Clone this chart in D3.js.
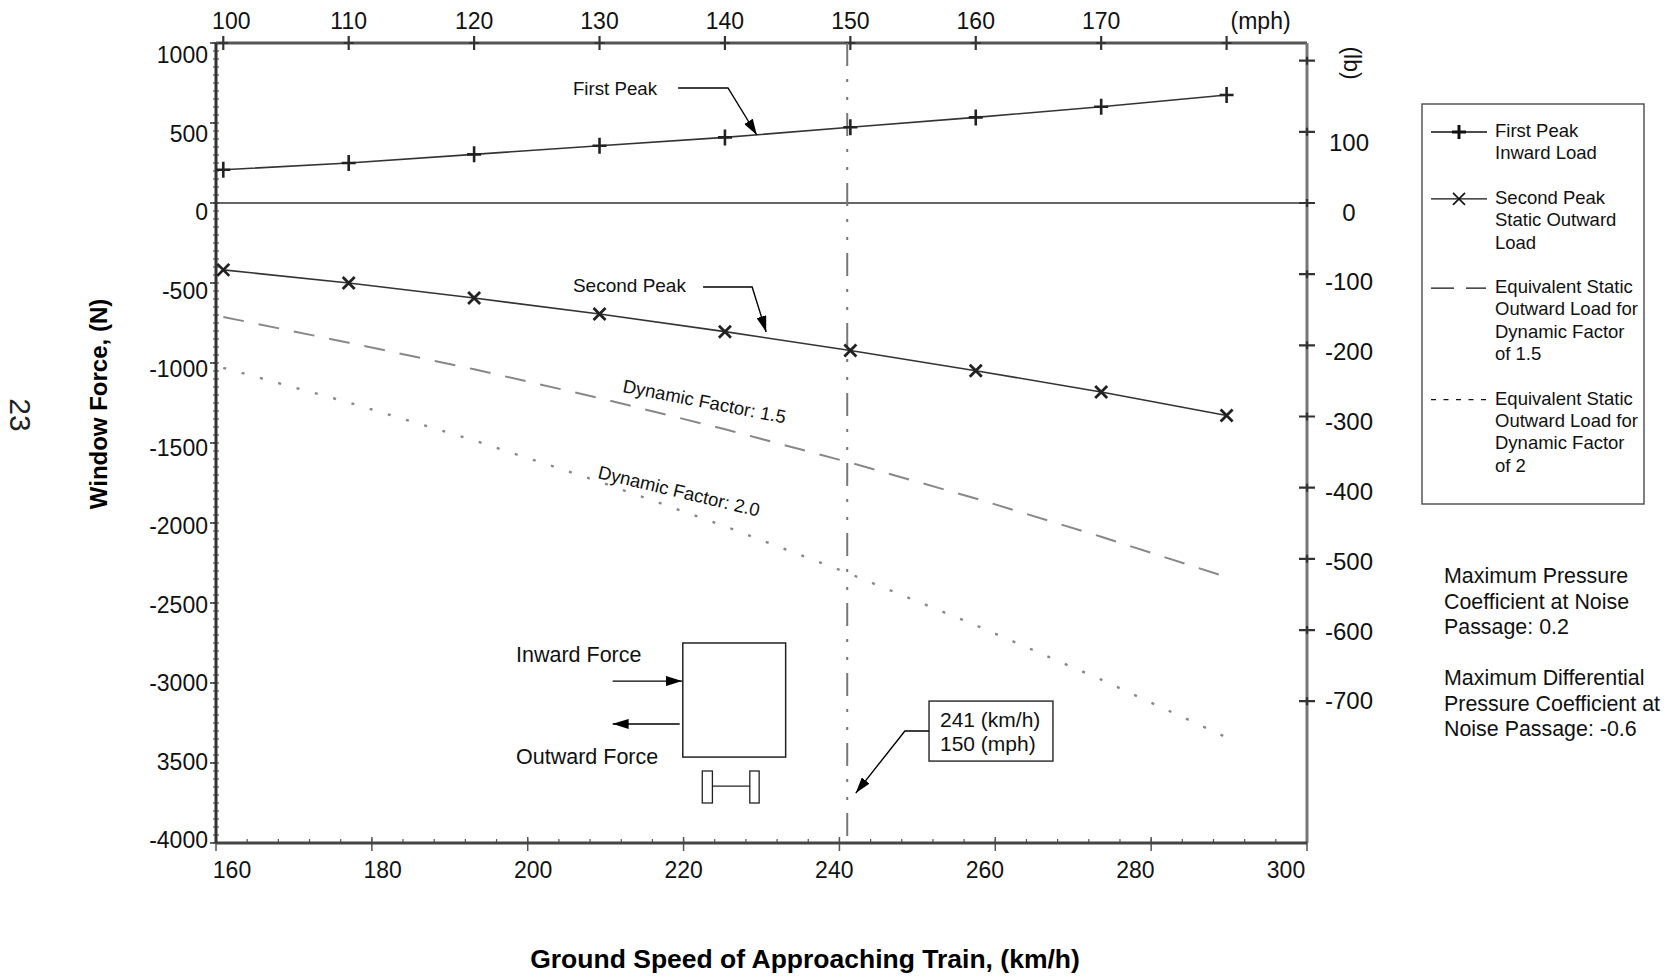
<!DOCTYPE html>
<html><head><meta charset="utf-8">
<script src="https://cdn.jsdelivr.net/npm/d3@7"></script>
<style>
body{margin:0;background:#fff;}
svg{font-family:"Liberation Sans",Arial,Helvetica,sans-serif;}
</style></head><body>
<svg id="chart" width="1670" height="976"></svg>
<script>
// ---------------- data ----------------
const speedMph      = [100,110,120,130,140,150,160,170,180];
const firstPeakN    = [208,250,304,358,410,473,535,602,675];
const secondPeakN   = [-418,-500,-594,-694,-804,-922,-1048,-1181,-1328];
const dynFactor15N  = [-712,-873,-1039,-1219,-1414,-1623,-1847,-2086,-2338];
const dynFactor20N  = [-1030,-1247,-1484,-1742,-2020,-2319,-2639,-2979,-3340];

const kmhTicks        = [160,180,200,220,240,260,280,300];
const mphTicks        = [100,110,120,130,140,150,160,170,180];
const mphTickLabels   = ["100","110","120","130","140","150","160","170","(mph)"];
const forceTicks      = [1000,500,0,-500,-1000,-1500,-2000,-2500,-3000,-3500,-4000];
const forceTickLabels = ["1000","500","0","-500","-1000","-1500","-2000","-2500","-3000","3500","-4000"];
const lbTicks         = [200,100,0,-100,-200,-300,-400,-500,-600,-700];
const lbTickLabels    = ["","100","0","-100","-200","-300","-400","-500","-600","-700"];
const markerKmh = 241;
const KMH_PER_MPH = 1.609344;
const N_PER_LB = 4.44822;

const legendEntries = [
  {lines:["First Peak","Inward Load"], type:"plus"},
  {lines:["Second Peak","Static Outward","Load"], type:"cross"},
  {lines:["Equivalent Static","Outward Load for","Dynamic Factor","of 1.5"], type:"dash"},
  {lines:["Equivalent Static","Outward Load for","Dynamic Factor","of 2"], type:"dot"}
];
const noteLines = [["Maximum Pressure","Coefficient at Noise","Passage: 0.2"],
                   ["Maximum Differential","Pressure Coefficient at","Noise Passage: -0.6"]];

// ---------------- scales ----------------
const svg = d3.select("#chart");
const x = d3.scaleLinear().domain([160,300]).range([216,1307]);
const y = d3.scaleLinear().domain([-4000,1000]).range([843,43]);
const xm = mph => x(mph*KMH_PER_MPH);
const xLabel = d3.scaleLinear().domain([160,300]).range([232,1286]);
const yLabel = d3.scaleLinear().domain([-4000,1000]).range([840,55]);
const TICK_FONT = 23;

const defs = svg.append("defs");
defs.append("marker").attr("id","arrow").attr("viewBox","0 0 16 10")
  .attr("refX",16).attr("refY",5).attr("markerWidth",16).attr("markerHeight",10)
  .attr("markerUnits","userSpaceOnUse").attr("orient","auto")
  .append("path").attr("d","M0,0L16,5L0,10Z").attr("fill","#000");

const g = svg.append("g");

// minor ticks left axis
g.selectAll(".ymin").data(d3.range(-4000,1001,50)).join("line")
  .attr("x1",x(160)-3).attr("x2",x(160)+3).attr("y1",d=>y(d)).attr("y2",d=>y(d))
  .attr("stroke","#555").attr("stroke-width",1.2);
g.selectAll(".ymaj").data(forceTicks).join("line")
  .attr("x1",x(160)-6).attr("x2",x(160)).attr("y1",d=>y(d)).attr("y2",d=>y(d))
  .attr("stroke","#333").attr("stroke-width",1.5);
// minor ticks bottom axis
g.selectAll(".xmin").data(d3.range(160,301,4)).join("line")
  .attr("x1",d=>x(d)).attr("x2",d=>x(d)).attr("y1",y(-4000)-4).attr("y2",y(-4000))
  .attr("stroke","#555").attr("stroke-width",1.2);
g.selectAll(".xmaj").data(kmhTicks).join("line")
  .attr("x1",d=>x(d)).attr("x2",d=>x(d)).attr("y1",y(-4000)-6).attr("y2",y(-4000)+8)
  .attr("stroke","#555").attr("stroke-width",1.5);

// axes frame
g.append("line").attr("x1",x(160)).attr("x2",x(300)).attr("y1",y(1000)).attr("y2",y(1000))
  .attr("stroke","#555").attr("stroke-width",3);
g.append("line").attr("x1",x(300)).attr("x2",x(300)).attr("y1",y(1000)).attr("y2",y(-4000))
  .attr("stroke","#777").attr("stroke-width",3);
g.append("line").attr("x1",x(160)).attr("x2",x(300)).attr("y1",y(-4000)).attr("y2",y(-4000))
  .attr("stroke","#444").attr("stroke-width",3);
g.append("line").attr("x1",x(160)).attr("x2",x(160)).attr("y1",y(1000)).attr("y2",y(-4000))
  .attr("stroke","#333").attr("stroke-width",3);
// zero line
g.append("line").attr("x1",x(160)).attr("x2",x(300)).attr("y1",y(0)).attr("y2",y(0))
  .attr("stroke","#333").attr("stroke-width",1.5);

// top + ticks
g.selectAll(".tplus").data(mphTicks).join("path")
  .attr("d",d=>`M${xm(d)},${y(1000)-7}V${y(1000)+7}M${xm(d)-5},${y(1000)}H${xm(d)+5}`)
  .attr("stroke","#333").attr("stroke-width",2.2).attr("fill","none");
// right + ticks
g.selectAll(".rplus").data(lbTicks).join("path")
  .attr("d",d=>`M${x(300)-8},${y(d*N_PER_LB)}H${x(300)+8}M${x(300)},${y(d*N_PER_LB)-4}V${y(d*N_PER_LB)+4}`)
  .attr("stroke","#333").attr("stroke-width",2.2).attr("fill","none");

// tick labels
const tl = svg.append("g").attr("font-size",TICK_FONT).attr("fill","#111");
tl.selectAll(".ly").data(forceTicks).join("text")
  .attr("x",x(160)-8).attr("y",d=>yLabel(d)).attr("dy","0.36em").attr("text-anchor","end")
  .text((d,i)=>forceTickLabels[i]);
tl.selectAll(".lx").data(kmhTicks).join("text")
  .attr("x",d=>xLabel(d)).attr("y",870).attr("dy","0.36em").attr("text-anchor","middle")
  .text(d=>d);
tl.selectAll(".lt").data(mphTicks).join("text")
  .attr("x",(d,i)=> i===mphTicks.length-1 ? xm(d)+34 : xm(d)+ (i===0?8:0))
  .attr("y",21).attr("dy","0.36em").attr("text-anchor","middle")
  .text((d,i)=>mphTickLabels[i]);
tl.selectAll(".lr").data(lbTicks).join("text")
  .attr("x",1349).attr("y",d=>yLabel(d*N_PER_LB)).attr("dy","0.36em").attr("text-anchor","middle")
  .attr("font-size",24)
  .text((d,i)=>lbTickLabels[i]);
tl.append("text").attr("transform",`translate(1352,63) rotate(90)`)
  .attr("text-anchor","middle").attr("dy","0.36em").text("(lb)");

// axis titles
svg.append("text").attr("transform","translate(98,404) rotate(-90)").attr("text-anchor","middle")
  .attr("dy","0.36em").attr("font-weight","bold").attr("font-size",24).text("Window Force, (N)");
svg.append("text").attr("x",805).attr("y",958).attr("text-anchor","middle").attr("dy","0.36em")
  .attr("font-weight","bold").attr("font-size",26.5).text("Ground Speed of Approaching Train, (km/h)");
svg.append("text").attr("transform","translate(21,415) rotate(90)").attr("text-anchor","middle")
  .attr("dy","0.36em").attr("font-size",30).attr("fill","#222").text("23");

// vertical reference line
g.append("line").attr("x1",x(markerKmh)).attr("x2",x(markerKmh)).attr("y1",y(1000)).attr("y2",y(-4000))
  .attr("stroke","#777").attr("stroke-width",2).attr("stroke-dasharray","23,13,3,15,3,13");

// series
const line = d3.line().x(d=>xm(d[0])).y(d=>y(d[1]));
const zipS = arr => speedMph.map((m,i)=>[m,arr[i]]);
g.append("path").attr("d",line(zipS(dynFactor20N))).attr("fill","none")
  .attr("stroke","#888").attr("stroke-width",2.4).attr("stroke-dasharray","3,16");
g.append("path").attr("d",line(zipS(dynFactor15N))).attr("fill","none")
  .attr("stroke","#888").attr("stroke-width",2).attr("stroke-dasharray","21,15");
g.append("path").attr("d",line(zipS(firstPeakN))).attr("fill","none")
  .attr("stroke","#333").attr("stroke-width",1.6);
g.append("path").attr("d",line(zipS(secondPeakN))).attr("fill","none")
  .attr("stroke","#333").attr("stroke-width",1.6);
g.selectAll(".p1").data(zipS(firstPeakN)).join("path")
  .attr("d",d=>`M${xm(d[0])-7},${y(d[1])}H${xm(d[0])+7}M${xm(d[0])},${y(d[1])-8}V${y(d[1])+8}`)
  .attr("stroke","#222").attr("stroke-width",2.6);
g.selectAll(".p2").data(zipS(secondPeakN)).join("path")
  .attr("d",d=>`M${xm(d[0])-6},${y(d[1])-6}L${xm(d[0])+6},${y(d[1])+6}M${xm(d[0])-6},${y(d[1])+6}L${xm(d[0])+6},${y(d[1])-6}`)
  .attr("stroke","#222").attr("stroke-width",2.8);

// annotations (data coordinates)
const ann = svg.append("g").attr("fill","#111");
function leader(pts){
  ann.append("path").attr("d",d3.line().x(p=>x(p[0])).y(p=>y(p[1]))(pts))
    .attr("fill","none").attr("stroke","#000").attr("stroke-width",1.4).attr("marker-end","url(#arrow)");
}
ann.append("text").attr("x",x(205.8)).attr("y",y(675)).attr("font-size",18.7).text("First Peak");
leader([[219.3,719],[225.7,719],[229.4,425]]);
ann.append("text").attr("x",x(205.8)).attr("y",y(-556)).attr("font-size",19).text("Second Peak");
leader([[222.5,-525],[228.8,-525],[230.6,-806]]);
ann.append("text").attr("transform",`translate(${x(212.1)},${y(-1181)}) rotate(11)`).attr("font-size",18.5).text("Dynamic Factor: 1.5");
ann.append("text").attr("transform",`translate(${x(208.9)},${y(-1719)}) rotate(13.5)`).attr("font-size",18.5).text("Dynamic Factor: 2.0");

// window diagram
ann.append("text").attr("x",x(198.5)).attr("y",y(-2869)).attr("font-size",21.5).text("Inward Force");
ann.append("text").attr("x",x(198.5)).attr("y",y(-3506)).attr("font-size",21.5).text("Outward Force");
ann.append("rect").attr("x",x(219.9)).attr("y",y(-2750)).attr("width",x(233.1)-x(219.9)).attr("height",y(-3463)-y(-2750))
  .attr("fill","none").attr("stroke","#222").attr("stroke-width",1.5);
leader([[210.9,-2988],[219.8,-2988]]);
leader([[219.5,-3256],[210.9,-3256]]);
ann.append("rect").attr("x",x(222.4)).attr("y",y(-3550)).attr("width",x(223.7)-x(222.4)).attr("height",y(-3750)-y(-3550))
  .attr("fill","none").attr("stroke","#222").attr("stroke-width",1.3);
ann.append("rect").attr("x",x(228.5)).attr("y",y(-3550)).attr("width",x(229.7)-x(228.5)).attr("height",y(-3750)-y(-3550))
  .attr("fill","none").attr("stroke","#222").attr("stroke-width",1.3);
ann.append("line").attr("x1",x(223.7)).attr("x2",x(228.5)).attr("y1",y(-3644)).attr("y2",y(-3644))
  .attr("stroke","#222").attr("stroke-width",1.3);

// callout
ann.append("rect").attr("x",x(251.5)).attr("y",y(-3113)).attr("width",x(267.4)-x(251.5)).attr("height",y(-3488)-y(-3113))
  .attr("fill","#fff").attr("stroke","#333").attr("stroke-width",1.5);
ann.append("text").attr("x",x(252.9)).attr("y",y(-3275)).attr("font-size",21).text("241 (km/h)");
ann.append("text").attr("x",x(252.9)).attr("y",y(-3425)).attr("font-size",21).text("150 (mph)");
leader([[251.5,-3300],[248.4,-3300],[242.1,-3688]]);

// legend
const lg = svg.append("g").attr("font-size",18.5).attr("fill","#111");
lg.append("rect").attr("x",1422).attr("y",104).attr("width",222).attr("height",400)
  .attr("fill","none").attr("stroke","#555").attr("stroke-width",1.5);
let base = 137;
const LH = 22.3;
legendEntries.forEach(e=>{
  const ly = base - 5;
  if(e.type==="plus"||e.type==="cross"){
    lg.append("line").attr("x1",1431).attr("x2",1487).attr("y1",ly).attr("y2",ly).attr("stroke","#111").attr("stroke-width",1.4);
    if(e.type==="plus") lg.append("path").attr("d",`M1452,${ly}H1466M1459,${ly-7}V${ly+7}`).attr("stroke","#111").attr("stroke-width",3);
    else lg.append("path").attr("d",`M1453,${ly-6}L1465,${ly+6}M1453,${ly+6}L1465,${ly-6}`).attr("stroke","#111").attr("stroke-width",1.6);
  } else if(e.type==="dash"){
    lg.append("line").attr("x1",1431).attr("x2",1486).attr("y1",ly).attr("y2",ly).attr("stroke","#111").attr("stroke-width",1.4).attr("stroke-dasharray","23,12");
  } else {
    lg.append("line").attr("x1",1431).attr("x2",1486).attr("y1",ly).attr("y2",ly).attr("stroke","#111").attr("stroke-width",1.4).attr("stroke-dasharray","5,7.5");
  }
  e.lines.forEach((t,i)=>lg.append("text").attr("x",1495).attr("y",base+i*LH).text(t));
  base += (e.lines.length+1)*LH;
});

// notes
const nt = svg.append("g").attr("font-size",21.4).attr("fill","#111");
[583,685].forEach((b,k)=>noteLines[k].forEach((t,i)=>nt.append("text").attr("x",1444).attr("y",b+i*25.5).text(t)));
</script>
</body></html>
